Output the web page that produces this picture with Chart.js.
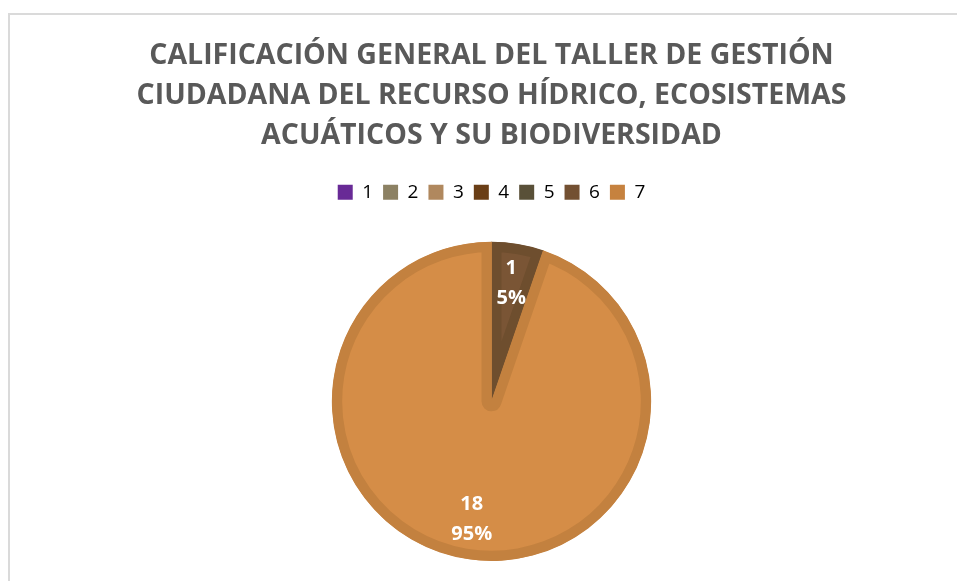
<!DOCTYPE html>
<html>
<head>
<meta charset="utf-8">
<script src="https://cdn.jsdelivr.net/npm/chart.js@4.4.1/dist/chart.umd.min.js"></script>
<style>
  html, body { margin: 0; padding: 0; background: #fff; overflow: hidden; }
  .marco {
    position: absolute; left: 8px; top: 13px; width: 949px; height: 568px;
    border-left: 2px solid #dadada; border-top: 2px solid #dadada;
  }
  canvas { display: block; }
</style>
</head>
<body>
<div class="marco"><canvas id="pieChart"></canvas></div>
<script>
// datos
const categorias = ['1', '2', '3', '4', '5', '6', '7'];
const respuestas = [0, 0, 0, 0, 0, 1, 18];
const titulo = [
  'CALIFICACIÓN GENERAL DEL TALLER DE GESTIÓN',
  'CIUDADANA DEL RECURSO HÍDRICO, ECOSISTEMAS',
  'ACUÁTICOS Y SU BIODIVERSIDAD'
];

const coloresRelleno = ['#682a96', '#8c8163', '#b0885e', '#6a3e16', '#595038', '#7a5535', '#d58d47'];
const coloresBorde = ['#682a96', '#8c8163', '#b0885e', '#6a3e16', '#595038', '#6e4e2e', '#c3813f'];
const coloresLeyenda = ['#682a96', '#8c8163', '#b0885e', '#6a3e16', '#595038', '#735032', '#c6823f'];

// etiquetas blancas con valor y porcentaje
const etiquetasPie = {
  id: 'etiquetasPie',
  afterDatasetsDraw(chart) {
    const ctx = chart.ctx;
    const meta = chart.getDatasetMeta(0);
    const datos = chart.data.datasets[0].data;
    const total = datos.reduce((a, b) => a + b, 0);
    ctx.save();
    ctx.fillStyle = '#ffffff';
    ctx.font = 'bold 20px "Open Sans"';
    ctx.textAlign = 'center';
    ctx.textBaseline = 'middle';
    meta.data.forEach((arco, i) => {
      const v = datos[i];
      if (!v) return;
      const p = arco.getProps(['x', 'y', 'startAngle', 'endAngle', 'outerRadius']);
      const ang = (p.startAngle + p.endAngle) / 2;
      const r = p.outerRadius * 0.75;
      const x = p.x + Math.cos(ang) * r;
      const y = p.y + Math.sin(ang) * r;
      ctx.fillText(String(v), x, y - 15);
      ctx.fillText(Math.round(v / total * 100) + '%', x, y + 15);
    });
    ctx.restore();
  }
};

// mas espacio bajo la leyenda
const espacioLeyenda = {
  id: 'espacioLeyenda',
  beforeInit(chart) {
    const fitOriginal = chart.legend.fit;
    chart.legend.fit = function () {
      fitOriginal.call(this);
      this.height += 30;
    };
  }
};

const ctx = document.getElementById('pieChart').getContext('2d');
new Chart(ctx, {
  type: 'pie',
  data: {
    labels: categorias,
    datasets: [{
      data: respuestas,
      backgroundColor: coloresRelleno,
      borderColor: coloresBorde,
      borderWidth: 10,
      borderAlign: 'inner'
    }]
  },
  options: {
    responsive: true,
    maintainAspectRatio: false,
    animation: false,
    layout: { padding: { left: 14, right: 0, top: 21, bottom: 22 } },
    plugins: {
      title: {
        display: true,
        text: titulo,
        color: '#595959',
        font: { family: '"Open Sans"', size: 28.5, weight: 'bold', lineHeight: 1.4 },
        padding: { top: 0, bottom: 17 }
      },
      legend: {
        position: 'top',
        labels: {
          color: '#595959',
          font: { family: '"Open Sans"', size: 19 },
          boxWidth: 15,
          boxHeight: 15,
          padding: 10,
          generateLabels: (chart) => categorias.map((c, i) => ({
            text: c,
            fillStyle: coloresLeyenda[i],
            strokeStyle: coloresLeyenda[i],
            lineWidth: 0,
            hidden: false,
            index: i
          }))
        },
        onClick: null
      },
      tooltip: { enabled: false }
    }
  },
  plugins: [etiquetasPie, espacioLeyenda]
});
</script>
</body>
</html>
